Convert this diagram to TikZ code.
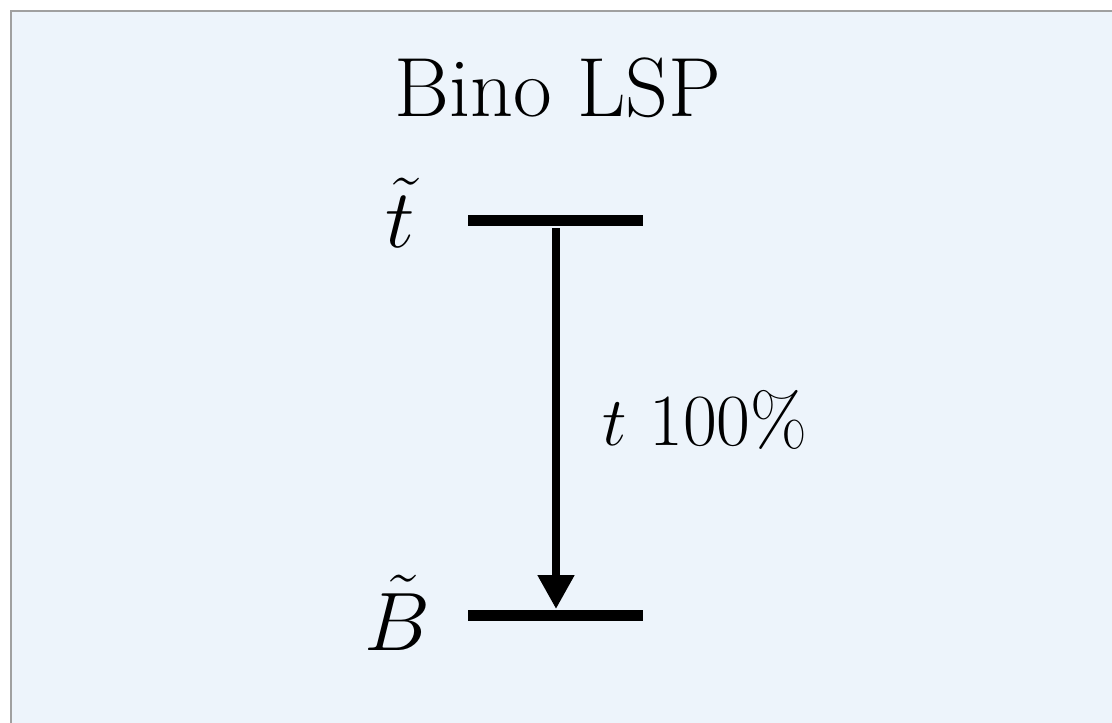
\documentclass[tikz,border=0pt]{standalone}
\usepackage{amsmath,amssymb}
\usepackage{xcolor}
\usetikzlibrary{arrows.meta,positioning}
\definecolor{panelbg}{RGB}{237,244,251}
\definecolor{panelrim}{RGB}{160,160,160}

\begin{document}
\begin{tikzpicture}[x=0.25pt,y=0.25pt,
    level/.style={line width=2.75pt},
    decay/.style={line width=2pt,-{Triangle[length=8.5pt,width=8.75pt]}}]
  \useasboundingbox (0,0) rectangle (1112,722);
  \clip (0,0) rectangle (1112,722);
  \fill[white] (0,0) rectangle (1112,722);
  \filldraw[fill=panelbg,draw=panelrim,line width=0.6pt]
    (11,-20) rectangle (1140,711);
  \node (title) at (558,634) {\fontsize{21}{25}\selectfont Bino LSP};
  % levels
  \coordinate (stopL) at (468,502);
  \coordinate (stopR) at (643,502);
  \coordinate (binoL) at (468,107);
  \coordinate (binoR) at (643,107);
  \draw[level] (stopL) -- (stopR);
  \draw[level] (binoL) -- (binoR);
  \node (stop) at (400,509) {\fontsize{20}{24}\selectfont $\tilde{t}$};
  \node (bino) at (397,109) {\fontsize{20}{24}\selectfont $\tilde{B}$};
  % decay
  \coordinate (top) at (556,494);
  \coordinate (bot) at (556,113);
  \draw[decay] (top) -- (bot);
  \node (br) at (705,302) {\fontsize{18.4}{22}\selectfont $t$ 100\%};
\end{tikzpicture}
\end{document}
